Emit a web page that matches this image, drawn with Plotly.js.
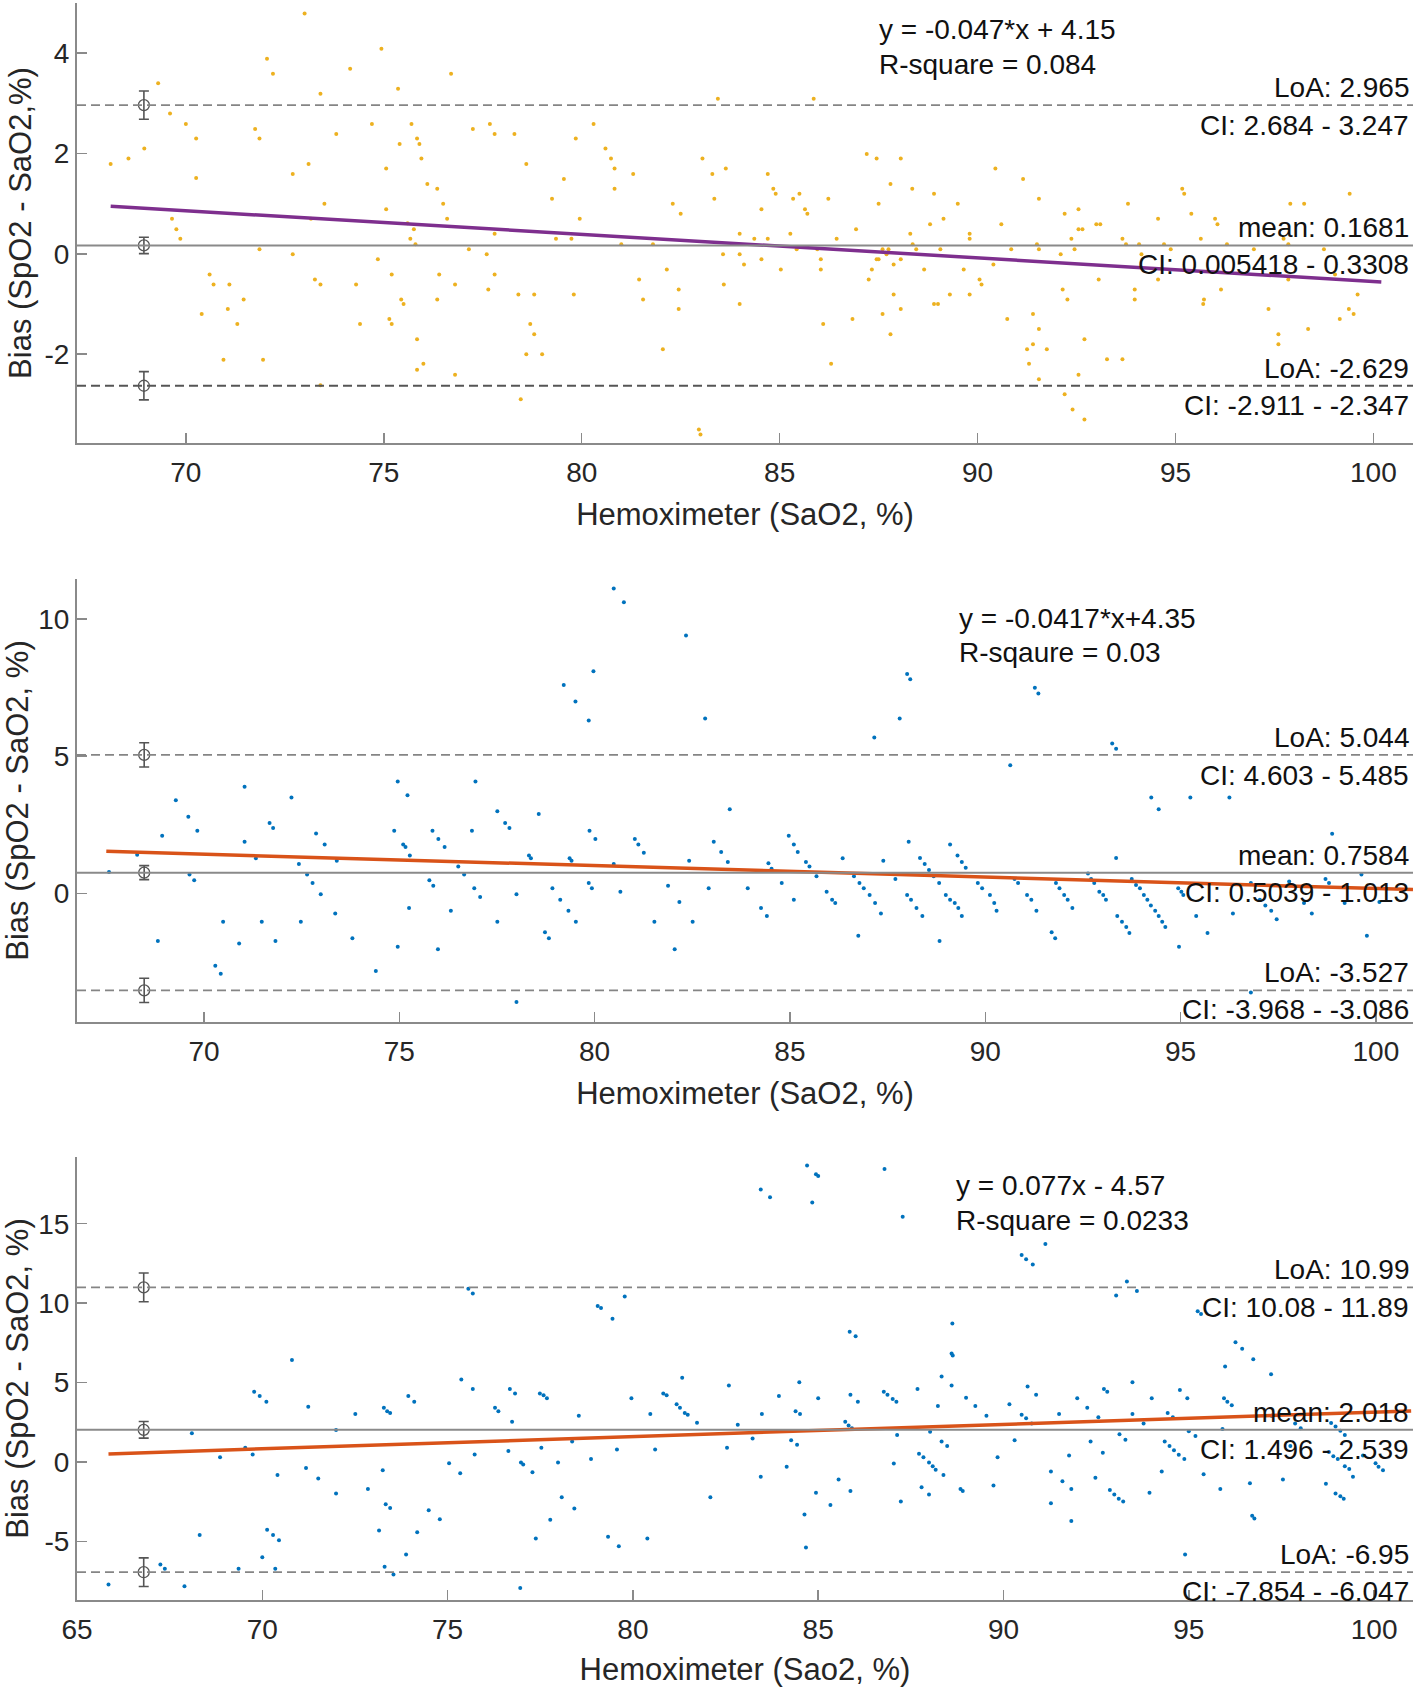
<!DOCTYPE html>
<html>
<head>
<meta charset="utf-8">
<script src="https://cdn.plot.ly/plotly-3.0.1.min.js"></script>
<style>html,body{margin:0;padding:0;background:#fff}#chart{width:1416px;height:1687px}</style>
</head>
<body>
<div id="chart"></div>
<script>
// ---------------- Panel 1 data ----------------
const p1x = [68.1,68.55,69.3,68.95,69.6,70.0,70.26,70.26,69.65,69.76,69.86,70.6,70.7,71.1,70.4,71.06,71.46,71.3,70.95,71.95,71.75,71.86,72.05,72.2,71.86,72.7,72.7,73.0,73.1,73.16,73.4,73.26,73.4,73.5,73.4,73.8,74.15,74.3,74.4,74.7,74.85,74.94,75.06,75.06,75.2,75.14,75.2,75.36,75.4,75.44,75.5,75.6,75.7,75.67,75.76,75.8,75.84,75.9,75.95,75.84,75.84,76.0,76.1,76.35,76.5,76.35,76.4,76.6,76.7,76.8,76.8,77.15,77.25,77.6,77.64,77.68,77.8,77.8,77.8,78.3,78.4,78.46,78.6,78.7,78.8,78.8,78.6,79.0,79.25,79.35,79.55,79.74,79.8,79.85,79.95,80.3,80.6,80.74,80.83,80.83,81.0,81.3,81.45,81.55,81.8,82.05,82.15,82.3,82.45,82.45,82.5,82.96,83.0,83.05,
83.44,85.86,83.3,83.64,84.7,84.84,84.9,85.34,85.5,83.35,84.54,85.64,85.7,86.23,83.99,84.36,84.7,85.27,85.43,85.95,86.44,86.93,83.57,83.99,84.1,84.54,85.03,86.04,83.59,83.99,86.04,86.1,86.3,86.84,87.2,87.45,88.06,87.8,87.5,88.35,88.9,89.5,89.14,88.8,88.3,87.6,87.75,88.36,88.45,89.06,89.8,89.8,87.45,87.5,87.7,88.06,87.88,87.25,87.33,88.65,87.88,88.06,87.6,87.8,88.9,89.0,89.3,89.8,89.65,90.05,90.1,90.4,90.45,90.6,90.85,91.15,91.55,91.5,91.55,90.75,91.4,91.55,91.25,91.4,91.75,91.3,91.55,92.2,92.4,92.7,92.55,92.7,92.15,92.27,92.1,92.2,92.55,92.37,92.45,92.55,92.65,93.0,93.1,93.06,93.27,93.66,93.66,93.75,93.8,93.97,93.97,94.08,94.14,94.56,94.56,94.71,94.88,95.17,95.22,95.4,95.64,95.72,95.7,96.15,96.0,96.06,96.3,96.98,97.35,97.6,97.6,97.9,98.25,97.73,97.85,97.85,98.35,98.75,99.03,99.15,99.4,99.38,99.5,99.6];
const p1y = [1.79,1.90,3.40,2.10,2.80,2.59,2.30,1.51,0.70,0.49,0.30,-0.41,-0.61,-0.61,-1.20,-1.10,-0.91,-1.40,-2.11,-2.11,2.49,2.30,3.89,3.59,0.09,1.59,-0.01,4.79,1.79,0.70,3.19,-0.51,-0.61,1.0,-2.62,2.39,3.69,-0.61,-1.40,2.59,-0.11,4.09,1.70,0.89,-0.41,-1.30,-1.40,3.29,2.19,-0.91,-1.0,0.61,2.59,0.30,0.49,0.19,2.30,2.19,1.90,-1.70,-2.31,-2.19,1.39,1.30,1.0,-0.91,-0.41,0.70,3.59,-0.61,-2.41,0.09,2.49,-0.01,-0.71,2.59,2.39,0.40,-0.41,2.39,-0.81,-2.90,1.79,-1.40,-1.60,-0.81,-2.0,-2.0,1.10,0.30,1.49,0.30,-0.81,2.30,0.70,2.59,2.10,1.90,1.70,1.30,0.19,1.59,-0.51,-0.91,0.19,-1.90,-0.31,1.0,-0.71,-1.10,0.80,-3.50,-3.60,1.90,
3.09,3.09,1.59,1.70,1.59,1.30,1.20,1.10,1.20,1.10,0.89,0.89,0.80,1.10,0.40,0.30,0.30,0.40,0.09,0.09,0.30,0.49,-0.01,-0.01,-0.21,-0.11,-0.31,-0.11,-0.61,-1.0,-0.31,-1.40,-2.19,-1.30,1.99,1.90,1.90,1.39,1.0,1.30,1.20,1.0,0.70,0.59,0.40,0.09,0.09,0.19,0.09,0.09,0.40,0.30,-0.11,-0.11,-0.01,-0.11,-0.21,-0.51,-0.31,-0.31,-0.81,-1.10,-1.20,-1.60,-1.0,-1.0,-0.81,-0.81,-0.31,-0.51,-0.61,-0.21,1.70,0.59,0.09,1.49,1.10,0.19,0.09,-1.30,-1.20,-1.50,-1.90,-1.80,-1.90,-2.19,-2.50,-2.80,-3.10,-3.30,-2.41,-1.70,-0.71,-0.91,-0.01,0.80,0.89,0.30,0.09,0.49,0.49,0.59,0.59,-0.51,-2.10,-2.10,0.30,0.19,1.0,-0.71,-0.91,0.19,-0.01,0.70,-0.51,0.19,0.09,1.30,1.20,0.80,0.30,-0.91,-1.0,-0.71,0.70,0.59,0.19,0.09,-1.10,-1.60,-1.80,1.0,1.0,0.30,0.19,-0.51,-1.50,0.09,-0.41,-1.30,1.20,-1.10,-1.20,-0.81];
const p1Fit = {slope: -0.047, intercept: 4.15, xStart: 68.1, xEnd: 100.2};
const p1Stats = {mean: 0.1681, meanCI: [0.005418, 0.3308], loaU: 2.965, loaUCI: [2.684, 3.247], loaL: -2.629, loaLCI: [-2.911, -2.347]};
const p1Labels = {eq: "y = -0.047*x + 4.15", r2: "R-square = 0.084", loaU: "LoA: 2.965", loaUCI: "CI: 2.684 - 3.247", mean: "mean: 0.1681", meanCI: "CI: 0.005418 - 0.3308", loaL: "LoA: -2.629", loaLCI: "CI: -2.911 - -2.347"};

// ---------------- Panel 2 data ----------------
const p2x = [67.57,68.29,68.93,68.82,69.28,69.6,69.63,69.75,69.83,70.29,70.43,70.49,70.9,71.04,71.04,71.33,71.48,71.68,71.77,71.83,72.24,72.43,72.48,72.64,72.78,72.87,72.99,73.09,73.36,73.4,73.8,74.4,74.87,74.96,74.96,75.1,75.16,75.21,75.27,75.25,75.77,75.87,75.85,76.0,76.16,75.99,76.32,76.51,76.66,76.86,76.95,76.92,77.07,77.51,77.51,77.71,77.82,78.0,78.0,78.32,78.37,78.57,78.73,78.83,78.92,79.12,79.21,79.33,79.36,79.41,79.51,79.52,79.85,79.85,79.87,79.93,79.97,80.02,80.49,80.49,80.75,80.66,81.03,81.12,81.26,81.53,81.88,82.05,82.17,82.34,82.42,82.51,82.83,82.92,
88.0,88.08,91.27,91.36,87.81,87.16,90.64,93.25,93.35,94.25,94.44,95.25,96.25,83.46,83.05,83.24,83.41,83.92,84.26,84.41,84.45,84.53,84.79,84.97,85.1,85.2,85.41,85.5,85.68,85.1,85.94,86.08,86.16,86.35,86.64,86.78,86.89,86.75,87.04,87.18,87.33,87.39,87.7,88.04,88.33,88.45,88.56,88.0,88.1,88.24,88.39,88.83,88.68,88.82,88.99,89.1,89.1,89.29,89.4,89.5,89.22,89.31,89.4,89.81,89.92,90.12,90.23,90.29,90.75,90.84,91.07,91.18,91.31,91.7,91.79,91.81,91.9,92.02,92.11,92.23,92.63,92.71,92.79,92.92,93.02,93.09,93.35,93.38,93.5,93.61,93.69,93.75,93.86,93.96,94.06,94.15,94.24,94.35,94.44,94.53,94.61,94.96,94.94,95.02,95.07,95.4,95.69,96.34,96.8,97.03,97.17,97.32,97.46,96.8,98.16,98.36,98.71,98.8,98.88,99.2,99.63,99.77,100.09,97.78];
const p2y = [0.78,1.41,2.10,-1.73,3.39,2.79,0.69,0.48,2.28,-2.63,-2.92,-1.03,-1.82,3.89,1.88,1.28,-1.03,2.57,2.38,-1.73,3.49,1.07,-1.03,0.69,0.38,2.18,-0.03,1.78,-0.73,1.19,-1.63,-2.82,2.28,4.08,-1.94,1.78,1.69,3.58,1.38,-0.53,0.48,0.28,2.28,1.98,1.69,-2.03,-0.63,0.98,0.69,2.28,4.08,0.19,-0.13,-1.03,2.99,2.57,2.38,-0.03,-3.95,1.38,1.28,2.89,-1.41,-1.63,0.19,-0.23,7.59,-0.63,1.28,1.19,6.99,-1.03,6.30,0.38,2.28,0.19,8.09,1.98,11.10,1.07,10.6,0.06,1.98,1.78,1.48,-1.03,0.28,-2.03,-0.31,9.39,1.19,-1.03,6.37,0.19,
7.99,7.8,7.49,7.28,6.37,5.68,4.67,5.46,5.27,3.49,3.07,3.49,3.49,3.07,1.88,1.51,1.15,0.19,-0.53,-0.82,1.10,0.90,0.38,2.10,1.78,1.51,1.15,0.98,0.63,-0.23,0.06,-0.23,-0.35,1.28,0.63,0.38,0.19,-1.54,-0.06,-0.35,-0.73,1.19,0.53,1.88,1.29,1.07,0.85,-0.06,-0.23,-0.53,-0.82,-1.73,0.63,0.38,-0.06,-0.23,1.78,1.38,1.15,0.94,-0.35,-0.53,-0.82,0.38,0.19,-0.06,-0.35,-0.63,0.53,0.38,-0.06,-0.23,-0.63,-1.41,-1.63,0.38,0.19,-0.06,-0.23,-0.53,0.73,0.53,0.38,0.06,-0.06,-0.23,1.29,-0.82,-1.03,-1.22,-1.44,0.53,0.31,0.19,-0.06,-0.23,-0.44,-0.63,-0.82,-1.03,-1.22,-1.94,0.19,0.06,-0.06,-0.82,-1.44,-0.73,-3.61,-0.23,-0.44,-0.63,-0.94,0.38,-0.35,-0.73,0.53,0.38,2.17,-0.35,0.69,-1.54,-0.31,0.44];
const p2Fit = {slope: -0.0417, intercept: 4.35, xStart: 67.5, xEnd: 100.95};
const p2Stats = {mean: 0.7584, meanCI: [0.5039, 1.013], loaU: 5.044, loaUCI: [4.603, 5.485], loaL: -3.527, loaLCI: [-3.968, -3.086]};
const p2Labels = {eq: "y = -0.0417*x+4.35", r2: "R-sqaure = 0.03", loaU: "LoA: 5.044", loaUCI: "CI: 4.603 - 5.485", mean: "mean: 0.7584", meanCI: "CI: 0.5039 - 1.013", loaL: "LoA: -3.527", loaLCI: "CI: -3.968 - -3.086"};

// ---------------- Panel 3 data ----------------
const p3x = [65.85,67.25,67.37,67.9,68.1,68.31,68.86,69.36,69.54,69.74,69.78,69.93,70.11,70.0,70.13,70.29,70.45,70.35,70.41,70.8,71.18,71.24,71.51,71.99,71.99,72.51,72.85,73.15,73.25,73.28,73.37,73.45,73.3,73.33,73.45,73.54,73.88,73.94,74.1,74.18,74.49,74.79,75.04,75.34,75.37,75.56,75.68,75.68,75.73,76.28,76.37,76.64,76.68,76.82,76.74,76.98,77.04,76.96,77.29,77.38,77.53,77.49,77.59,77.68,77.98,77.77,78.08,78.36,78.42,78.54,78.87,79.05,79.14,79.33,79.45,79.62,79.57,79.78,79.96,80.39,80.47,80.6,80.82,80.91,81.18,81.27,81.4,81.48,81.33,81.73,
84.7,84.94,85.0,83.45,83.7,84.84,86.79,87.28,91.13,90.49,90.61,90.79,93.33,93.6,93.04,95.24,95.33,88.62,85.85,86.01,88.6,88.63,96.26,96.44,96.74,95.98,97.22,82.59,84.49,83.94,85.0,83.48,84.39,84.51,82.83,83.23,82.54,84.27,84.43,83.45,84.15,82.09,84.63,84.67,84.94,85.33,85.55,85.87,86.07,85.73,85.82,85.91,85.87,86.77,86.87,87.01,87.11,87.13,87.04,87.23,87.68,88.02,88.23,88.33,88.6,88.33,88.48,87.72,87.84,87.99,88.09,88.17,88.38,87.79,87.99,88.84,88.9,88.99,89.24,89.54,89.84,89.73,90.16,90.3,90.65,90.88,90.49,90.61,90.76,91.28,91.5,91.59,91.77,91.83,91.83,91.28,91.99,92.26,92.35,92.48,92.56,92.71,92.8,92.68,92.87,92.99,93.11,93.23,93.13,93.29,93.48,93.48,93.78,93.94,94.0,94.27,94.43,94.57,94.35,94.48,94.6,94.73,94.88,94.76,94.96,95.0,95.18,94.9,95.4,95.85,95.95,96.04,96.16,95.91,96.65,96.71,96.77,97.23,97.54,97.87,98.02,97.74,98.7,98.96,99.09,99.18,98.78,98.9,99.02,98.84,98.96,99.09,99.21,99.43,99.21,99.33,100.04,100.12,100.24,99.7];
const p3y = [-7.73,-6.46,-6.73,-7.84,1.80,-4.61,0.29,-6.73,0.89,0.47,4.41,4.14,3.79,-6.01,-4.28,-4.61,-4.94,-6.73,-0.82,6.41,-0.38,3.47,-1.05,2.0,-2.0,3.01,-1.71,-4.32,-0.53,3.41,3.18,3.07,-6.61,-2.67,-2.90,-7.10,-5.84,4.14,3.79,-4.43,-3.05,-3.61,-0.09,-0.71,5.19,10.91,10.6,4.59,0.47,3.41,3.18,0.69,4.59,4.30,2.52,-0.04,-0.16,-7.95,-0.65,-4.83,0.89,4.30,4.19,4.01,-0.04,-3.65,-2.23,1.29,-2.94,2.90,0.18,9.82,9.69,-4.72,9.02,-5.32,0.78,10.42,4.01,-4.83,3.01,0.78,4.30,4.19,3.63,3.41,3.07,2.96,5.30,2.47,
18.66,18.11,18.0,17.15,16.66,16.33,18.44,15.43,13.72,13.03,12.76,12.43,11.36,10.76,10.47,9.49,9.31,8.71,8.2,7.91,6.82,6.70,7.53,7.13,6.46,6.01,5.52,4.81,5.01,4.14,4.01,3.01,3.18,3.01,2.34,1.47,0.89,1.36,1.07,-0.94,-0.31,-2.23,-3.32,-5.39,-1.94,-2.72,-1.11,4.23,3.79,2.52,2.29,2.12,-1.83,4.41,4.23,3.96,3.79,1.69,-0.11,-2.49,4.59,1.89,3.52,5.37,4.81,1.29,1.0,0.51,0.29,-0.04,-0.27,-0.49,-0.82,-1.6,-2.05,-1.71,-1.83,4.03,3.52,2.90,0.29,-1.49,3.63,1.36,4.74,4.23,2.96,2.74,2.41,-0.6,3.01,-1.22,0.40,-1.71,-3.72,-2.61,4.01,3.41,1.29,-1.0,2.81,4.59,4.41,0.58,-1.78,-2.05,-2.32,-2.49,1.74,1.40,5.01,3.01,2.41,-1.94,4.01,-0.6,3.07,2.81,1.29,1.0,0.73,0.45,0.18,4.52,4.01,1.92,1.63,-5.84,-0.78,-1.71,4.01,3.79,3.56,2.07,-1.34,-3.39,-3.56,2.90,-1.11,2.41,2.12,1.0,-1.38,-2.0,-2.16,-2.32,0.62,0.36,0.18,2.45,2.23,1.96,1.69,-0.94,-0.27,-0.45,-0.09,-0.31,-0.53,0.4];
const p3Fit = {slope: 0.077, intercept: -4.57, xStart: 65.85, xEnd: 101.0};
const p3Stats = {mean: 2.018, meanCI: [1.496, 2.539], loaU: 10.99, loaUCI: [10.08, 11.89], loaL: -6.95, loaLCI: [-7.854, -6.047]};
const p3Labels = {eq: "y = 0.077x - 4.57", r2: "R-square = 0.0233", loaU: "LoA: 10.99", loaUCI: "CI: 10.08 - 11.89", mean: "mean: 2.018", meanCI: "CI: 1.496 - 2.539", loaL: "LoA: -6.95", loaLCI: "CI: -7.854 - -6.047"};

// ---------------- Axes labels / ticks ----------------
const xTitles = ["Hemoximeter (SaO2, %)", "Hemoximeter (SaO2, %)", "Hemoximeter (Sao2, %)"];
const yTitles = ["Bias (SpO2 - SaO2,%)", "Bias (SpO2 - SaO2, %)", "Bias (SpO2 - SaO2, %)"];
const xTicks = [[70,75,80,85,90,95,100],[70,75,80,85,90,95,100],[65,70,75,80,85,90,95,100]];
const yTicks = [[-2,0,2,4],[0,5,10],[-5,0,5,10,15]];
const xRanges = [[67.25,101.0],[66.75,100.95],[65,101.05]];
const yRanges = [[-3.77,5.0],[-4.68,11.45],[-8.7,19.2]];
const errX = [68.94, 68.47, 66.8];

// ---------------- Layout geometry ----------------
const W = 1416, H = 1687;
const xDom = [77/W, 1413/W];
const panelPx = [[3,443],[579,1022],[1157,1600]];   // top, bottom in px
const eqPos = [[877,29,65],[957,618,653],[954,1185,1220]];
const dotColors = ['#EDB120', '#0072BD', '#0072BD'];
const fitColors = ['#7E2F8E', '#D95319', '#D95319'];

const FONT = 'Liberation Sans, Arial, Helvetica, sans-serif';
const panels = [
  {x:p1x, y:p1y, fit:p1Fit, st:p1Stats, lab:p1Labels},
  {x:p2x, y:p2y, fit:p2Fit, st:p2Stats, lab:p2Labels},
  {x:p3x, y:p3y, fit:p3Fit, st:p3Stats, lab:p3Labels}
];

const traces = [];
const shapes = [];
const annotations = [];
const layout = {
  width: W, height: H,
  margin: {l:0, r:0, t:0, b:0},
  paper_bgcolor: '#ffffff', plot_bgcolor: '#ffffff',
  showlegend: false,
  font: {family: FONT, color: '#262626'}
};

panels.forEach((p, i) => {
  const n = i === 0 ? '' : String(i+1);
  const xa = 'x' + n, ya = 'y' + n;
  const top = panelPx[i][0], bot = panelPx[i][1];
  layout['xaxis' + n] = {
    domain: xDom, anchor: ya, range: xRanges[i],
    tickvals: xTicks[i], ticktext: xTicks[i].map(String),
    showline: true, linecolor: '#8a8a8a', linewidth: 2,
    ticks: 'inside', ticklen: 10, tickwidth: 1.5, tickcolor: '#8a8a8a',
    showgrid: false, zeroline: false, ticklabelstandoff: 3,
    tickfont: {family: FONT, size: 28, color: '#262626'},
    title: {text: xTitles[i], font: {family: FONT, size: 31, color: '#262626'}, standoff: 17}
  };
  layout['yaxis' + n] = {
    domain: [1 - bot/H, 1 - top/H], anchor: xa, range: yRanges[i],
    tickvals: yTicks[i], ticktext: yTicks[i].map(String),
    showline: true, linecolor: '#8a8a8a', linewidth: 2,
    ticks: 'inside', ticklen: 10, tickwidth: 1.5, tickcolor: '#8a8a8a',
    showgrid: false, zeroline: false, ticklabelstandoff: 0,
    tickfont: {family: FONT, size: 28, color: '#262626'},
    title: {text: yTitles[i], font: {family: FONT, size: 31, color: '#262626'}, standoff: 4}
  };

  // scatter points
  traces.push({
    type: 'scatter', mode: 'markers', x: p.x, y: p.y, xaxis: xa, yaxis: ya,
    marker: {color: dotColors[i], size: 4, line: {width: 0}}, hoverinfo: 'skip', cliponaxis: true
  });

  // horizontal reference lines
  const st = p.st;
  shapes.push({type:'line', xref: xa + ' domain', yref: ya, x0:0, x1:1, y0: st.mean, y1: st.mean,
               line:{color:'#8a8a8a', width:2}});
  [st.loaU, st.loaL].forEach((v, k) => {
    shapes.push({type:'line', xref: xa + ' domain', yref: ya, x0:0, x1:1, y0: v, y1: v,
                 line:{color: (i === 0 && k === 1) ? '#555555' : '#858585', width:1.8, dash:'9px,5px'}});
  });

  // fit line
  const fx = [p.fit.xStart, p.fit.xEnd];
  traces.push({
    type: 'scatter', mode: 'lines', x: fx, y: fx.map(v => p.fit.slope * v + p.fit.intercept),
    xaxis: xa, yaxis: ya, line: {color: fitColors[i], width: 3.5}, hoverinfo: 'skip'
  });

  // error bars with open circles
  const vals = [st.loaU, st.mean, st.loaL];
  const cis = [st.loaUCI, st.meanCI, st.loaLCI];
  traces.push({
    type: 'scatter', mode: 'markers', x: vals.map(() => errX[i]), y: vals,
    xaxis: xa, yaxis: ya,
    marker: {symbol: 'circle-open', size: 11, color: '#555555', line: {width: 1.3, color: '#555555'}},
    error_y: {type: 'data', symmetric: false,
              array: cis.map((c, k) => c[1] - vals[k]),
              arrayminus: cis.map((c, k) => vals[k] - c[0]),
              color: '#555555', thickness: 1.6, width: 5},
    hoverinfo: 'skip'
  });

  // right-side labels
  const lab = p.lab;
  const addLab = (text, yv, above, shift) => annotations.push({
    text: text, xref: xa + ' domain', yref: ya, x: 1, y: yv, xanchor: 'right',
    yanchor: above ? 'bottom' : 'top', xshift: -2, yshift: shift, showarrow: false,
    font: {family: FONT, size: 28, color: '#111111'}
  });
  addLab(lab.loaU, st.loaU, true, 0);
  addLab(lab.loaUCI, st.loaU, false, -3);
  addLab(lab.mean, st.mean, true, 0);
  addLab(lab.meanCI, st.mean, false, -2);
  addLab(lab.loaL, st.loaL, true, 0);
  addLab(lab.loaLCI, st.loaL, false, -2);

  // equation text
  const e = eqPos[i];
  annotations.push({text: lab.eq, xref:'paper', yref:'paper', x: e[0]/W, y: 1 - e[1]/H,
    xanchor:'left', yanchor:'middle', showarrow:false, font:{family: FONT, size: 28, color:'#111111'}});
  annotations.push({text: lab.r2, xref:'paper', yref:'paper', x: e[0]/W, y: 1 - e[2]/H,
    xanchor:'left', yanchor:'middle', showarrow:false, font:{family: FONT, size: 28, color:'#111111'}});
});

layout.shapes = shapes;
layout.annotations = annotations;

Plotly.newPlot('chart', traces, layout, {staticPlot: true, displayModeBar: false});
</script>
</body>
</html>
